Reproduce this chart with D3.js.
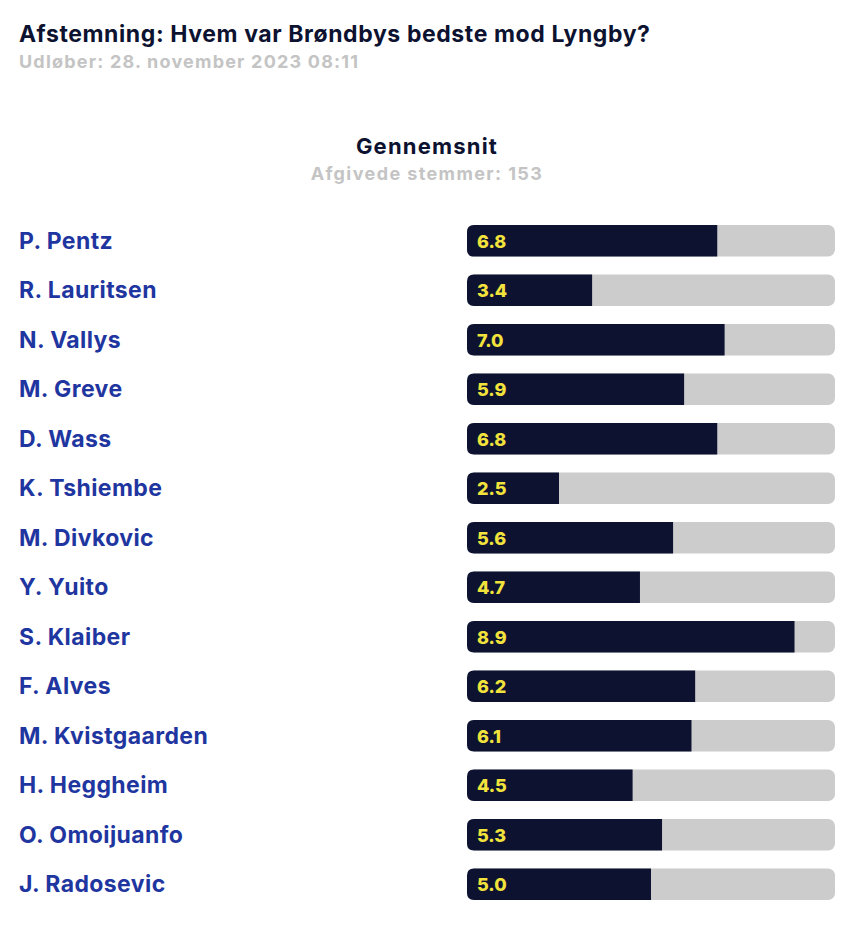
<!DOCTYPE html>
<html>
<head>
<meta charset="utf-8">
<script src="https://cdn.jsdelivr.net/npm/d3@7"></script>
<style>
  body { margin: 0; background: #fff; }
  text { font-family: Inter, "Noto Sans", sans-serif; }
</style>
</head>
<body>
<div id="chart-area"></div>
<script>
var players = ["P. Pentz", "R. Lauritsen", "N. Vallys", "M. Greve", "D. Wass", "K. Tshiembe",
    "M. Divkovic", "Y. Yuito", "S. Klaiber", "F. Alves", "M. Kvistgaarden", "H. Heggheim",
    "O. Omoijuanfo", "J. Radosevic"];
var ratings = [6.8, 3.4, 7.0, 5.9, 6.8, 2.5, 5.6, 4.7, 8.9, 6.2, 6.1, 4.5, 5.3, 5.0];
var maxRating = 10;
var votes = 153;

var width = 850, height = 950;

var svg = d3.select("#chart-area")
    .append("svg")
    .attr("width", width)
    .attr("height", height);

svg.append("text")
    .attr("x", 19)
    .attr("y", 42)
    .attr("font-size", "23px")
    .attr("font-weight", "bold")
    .attr("letter-spacing", "0.6px")
    .attr("fill", "#0c1230")
    .text("Afstemning: Hvem var Brøndbys bedste mod Lyngby?");

svg.append("text")
    .attr("x", 19)
    .attr("y", 68)
    .attr("font-size", "18px")
    .attr("font-weight", "bold")
    .attr("letter-spacing", "1.2px")
    .attr("fill", "#c4c4c4")
    .text("Udløber: 28. november 2023 08:11");

svg.append("text")
    .attr("x", 427)
    .attr("y", 154)
    .attr("text-anchor", "middle")
    .attr("font-size", "22px")
    .attr("font-weight", "bold")
    .attr("letter-spacing", "1.2px")
    .attr("fill", "#0c1230")
    .text("Gennemsnit");

svg.append("text")
    .attr("x", 427)
    .attr("y", 180)
    .attr("text-anchor", "middle")
    .attr("font-size", "18px")
    .attr("font-weight", "bold")
    .attr("letter-spacing", "1.4px")
    .attr("fill", "#c4c4c4")
    .text("Afgivede stemmer: " + votes);

const x = d3.scaleLinear()
    .domain([0, maxRating])
    .range([467, 835]);

const y = d3.scaleBand()
    .domain(players)
    .range([216, 216 + 49.5 * players.length])
    .paddingInner(0.36)
    .paddingOuter(0.18);

var rows = svg.selectAll(".row")
    .data(players)
    .enter()
    .append("g")
    .attr("class", "row");

rows.append("text")
    .attr("x", 19)
    .attr("y", d => y(d) + y.bandwidth() / 2 + 8)
    .attr("font-size", "23px")
    .attr("font-weight", "bold")
    .attr("letter-spacing", "0.4px")
    .attr("fill", "#1f36a0")
    .text(d => d);

rows.append("rect")
    .attr("x", x(0))
    .attr("y", d => y(d))
    .attr("width", x(maxRating) - x(0))
    .attr("height", y.bandwidth())
    .attr("rx", 7)
    .attr("fill", "#cccccc");

var r = 7;
rows.append("path")
    .attr("fill", "#0c1230")
    .attr("d", (d, i) => {
        var x0 = x(0), x1 = x(ratings[i]), y0 = y(d), h = y.bandwidth();
        return `M${x0 + r},${y0} H${x1} V${y0 + h} H${x0 + r} Q${x0},${y0 + h} ${x0},${y0 + h - r}` +
            ` V${y0 + r} Q${x0},${y0} ${x0 + r},${y0} Z`;
    });

rows.append("text")
    .attr("x", x(0) + 10)
    .attr("y", d => y(d) + y.bandwidth() / 2 + 7)
    .attr("font-size", "18px")
    .attr("font-weight", "800")
    .attr("fill", "#f2e33c")
    .text((d, i) => d3.format(".1f")(ratings[i]));
</script>
</body>
</html>
